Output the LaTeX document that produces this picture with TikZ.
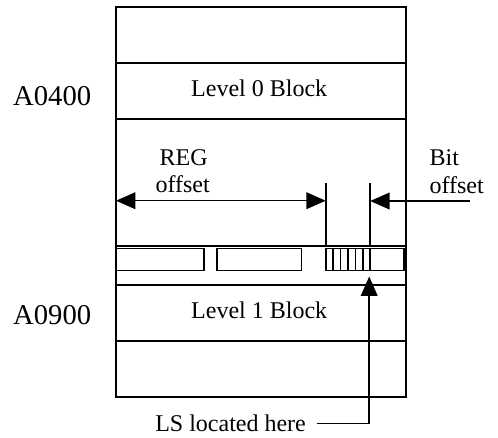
\documentclass[tikz,border=0pt]{standalone}
\usepackage{fontspec}
\setmainfont{Liberation Serif}
\usetikzlibrary{arrows.meta}
\tikzset{bighead/.tip={Triangle[length=14.5pt,width=12.5pt]}}
\begin{document}
\begin{tikzpicture}[x=0.75pt,y=-0.75pt,
  frame/.style={line width=1.4pt},
  reg/.style={line width=1.2pt},
  arr/.style={line width=1.1pt},
  lbl/.style={inner sep=0pt, anchor=base, font=\fontsize{18}{21}\selectfont},
  lblw/.style={inner sep=0pt, anchor=base west, font=\fontsize{18}{21}\selectfont},
  addr/.style={inner sep=0pt, anchor=base west, font=\fontsize{21.5}{25}\selectfont},
]
\useasboundingbox (0,0) rectangle (498,437);
% outer column and row lines
\draw[frame] (116,6.7) rectangle (406,397.3);
\foreach \yy in {63.3,119.3,246,285,340.7}
  \draw[frame] (116,\yy) -- (406,\yy);
% register row
\draw[reg] (116,248.5) rectangle (203.7,270.5);
\draw[reg] (216.7,248.5) rectangle (301.3,270.5);
\draw[reg] (325.7,248.5) rectangle (404,270.5);
\foreach \xx in {333.1,340.5,347.9,355.3,362.7,370.2}
  \draw[reg] (\xx,248.5) -- (\xx,270.5);
% marker lines
\draw[reg] (325.7,183) -- (325.7,246);
\draw[reg] (370.2,183) -- (370.2,246);
% labels
\node[lbl] (l0) at (259.2,96.7) {Level 0 Block};
\node[lbl] (l1) at (259.2,318.5) {Level 1 Block};
\node[addr] (a0) at (12.9,105.5) {A0400};
\node[addr] (a1) at (12.9,324) {A0900};
\node[lbl] (rega) at (183.6,165) {REG};
\node[lbl] (regb) at (182.7,192.3) {offset};
\node[lblw] (bita) at (429.3,165) {Bit};
\node[lblw] (bitb) at (429.3,193.3) {offset};
\node[lblw] (ls) at (155,431) {LS located here};
% arrows
\coordinate (regl) at (116,200.7);
\coordinate (regr) at (325.7,200.7);
\coordinate (bits) at (469.5,201);
\coordinate (bitt) at (370.2,201);
\coordinate (lss) at (316.7,423.3);
\coordinate (lsc) at (369.2,423.3);
\coordinate (lst) at (369.2,276.5);
\draw[arr,bighead-bighead] (regl) -- (regr);
\draw[arr,-bighead] (bits) -- (bitt);
\draw[arr,-bighead] (lss) -- (lsc) -- (lst);
\end{tikzpicture}
\end{document}
